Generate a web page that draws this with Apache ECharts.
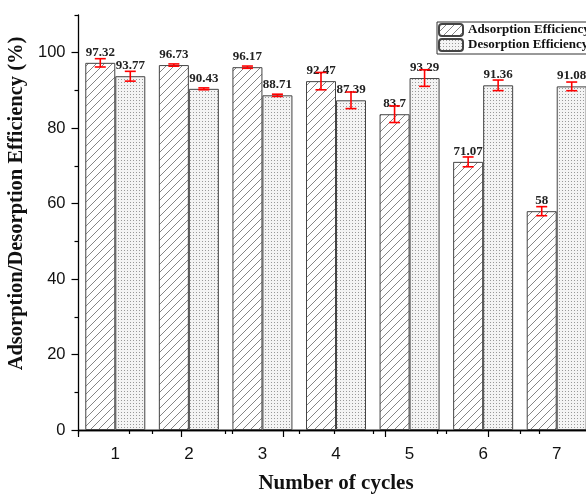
<!DOCTYPE html>
<html>
<head>
<meta charset="utf-8">
<script src="https://cdn.jsdelivr.net/npm/echarts@6/dist/echarts.min.js"></script>
<style>
html,body{margin:0;padding:0;background:#fff;}
#chart{width:586px;height:494px;}
</style>
</head>
<body>
<div id="chart"></div>
<script>
const categories = ['1', '2', '3', '4', '5', '6', '7'];
const adsorption = [97.32, 96.73, 96.17, 92.47, 83.7, 71.07, 58];
const desorption = [93.77, 90.43, 88.71, 87.39, 93.29, 91.36, 91.08];
const adsorptionErr = [1.1, 0.3, 0.3, 2.3, 2.2, 1.3, 1.2];
const desorptionErr = [1.3, 0.25, 0.3, 2.2, 2.2, 1.4, 1.15];
const yMajorTicks = [0, 20, 40, 60, 80, 100];
const yMinorTicks = [10, 30, 50, 70, 90, 110];

function hatchPattern() {
  const c = document.createElement('canvas');
  c.width = 8; c.height = 8;
  const g = c.getContext('2d');
  g.fillStyle = '#fff'; g.fillRect(0, 0, 8, 8);
  g.strokeStyle = '#666'; g.lineWidth = 0.8;
  g.beginPath();
  g.moveTo(-1, 9); g.lineTo(9, -1);
  g.moveTo(-1, 1); g.lineTo(1, -1);
  g.moveTo(7, 9); g.lineTo(9, 7);
  g.stroke();
  return c;
}
function dotPattern() {
  const c = document.createElement('canvas');
  c.width = 3; c.height = 3;
  const g = c.getContext('2d');
  g.fillStyle = '#f4f4f4'; g.fillRect(0, 0, 3, 3);
  g.fillStyle = '#999'; g.fillRect(1, 1, 1, 1);
  return c;
}
const hatchFill = { image: hatchPattern(), repeat: 'repeat' };
const dotFill = { image: dotPattern(), repeat: 'repeat' };

const BAR_W = 30;
const serif = "'Liberation Serif', 'Times New Roman', serif";
const sans = "'Liberation Sans', Arial, sans-serif";

function errData(vals, errs) {
  return vals.map((v, i) => [i, v, errs[i]]);
}
function errRender(shift) {
  return function (params, api) {
    const i = api.value(0), v = api.value(1), e = api.value(2);
    const t = api.coord([i, v + e]);
    const b = api.coord([i, v - e]);
    const x = t[0] + shift;
    const cap = 5.5;
    const style = { stroke: '#ff0000', lineWidth: 1.6 };
    return {
      type: 'group',
      children: [
        { type: 'line', shape: { x1: x, y1: t[1], x2: x, y2: b[1] }, style },
        { type: 'line', shape: { x1: x - cap, y1: t[1], x2: x + cap, y2: t[1] }, style },
        { type: 'line', shape: { x1: x - cap, y1: b[1], x2: x + cap, y2: b[1] }, style }
      ]
    };
  };
}

const chart = echarts.init(document.getElementById('chart'), null, { renderer: 'canvas' });
const labelStyle = {
  show: true, position: 'top', distance: 4,
  fontFamily: serif, fontWeight: 'bold', fontSize: 13, color: '#222'
};
chart.setOption({
  animation: false,
  backgroundColor: '#fff',
  grid: { left: 78.5, right: -7.5, top: 15, bottom: 64, containLabel: false, outerBoundsMode: 'none' },
  legend: {
    orient: 'vertical', left: 437, top: 22,
    itemWidth: 24, itemHeight: 12, itemGap: 1,
    padding: [1, 20, 2, 1],
    borderColor: '#333', borderWidth: 1, borderRadius: 0,
    backgroundColor: '#fff',
    textStyle: { fontFamily: serif, fontWeight: 'bold', fontSize: 13, color: '#111' },
    data: ['Adsorption Efficiency', 'Desorption Efficiency']
  },
  xAxis: [
    {
      type: 'category', data: categories, position: 'bottom',
      name: 'Number of cycles', nameLocation: 'middle', nameGap: 43,
      nameTextStyle: { fontFamily: serif, fontWeight: 'bold', fontSize: 21, color: '#111' },
      axisLine: { lineStyle: { color: '#000', width: 1.3 } },
      axisTick: { alignWithLabel: true, inside: false, length: 8, lineStyle: { color: '#000', width: 1.3 } },
      axisLabel: { margin: 16, fontFamily: sans, fontSize: 17, color: '#111' },
      splitLine: { show: false }
    },
    {
      type: 'category', data: categories, position: 'bottom', offset: 0,
      axisLine: { show: true, onZero: false, lineStyle: { color: 'rgba(0,0,0,0)', width: 1 } },
      axisTick: { show: true, alignWithLabel: false, length: 4, lineStyle: { color: '#000', width: 1.2 } },
      axisLabel: { show: false },
      splitLine: { show: false }
    },
    {
      type: 'value', position: 'top', min: 0, max: 5.03, interval: 1,
      axisLine: { show: true, lineStyle: { color: '#000', width: 1.3 } },
      axisTick: { show: true, inside: true, length: 7, lineStyle: { color: '#000', width: 1.2 } },
      minorTick: { show: true, splitNumber: 2, length: 4, lineStyle: { color: '#000', width: 1.2 } },
      axisLabel: { show: false },
      splitLine: { show: false }
    }
  ],
  yAxis: [
    {
      type: 'value', min: 0, max: 110, interval: 20, position: 'left',
      name: 'Adsorption/Desorption Efficiency (%)', nameLocation: 'middle', nameGap: 34,
      nameTextStyle: { fontFamily: serif, fontWeight: 'bold', fontSize: 20.5, color: '#111', padding: [0, 0, 0, 38] },
      axisLine: { show: true, lineStyle: { color: '#000', width: 1.3 } },
      axisTick: { show: true, length: 7, customValues: yMajorTicks, lineStyle: { color: '#000', width: 1.2 } },
      axisLabel: { margin: 13, fontFamily: sans, fontSize: 16.5, color: '#111', customValues: yMajorTicks },
      splitLine: { show: false }
    },
    {
      type: 'value', min: 0, max: 110, position: 'left',
      axisLine: { show: false },
      axisTick: { show: true, length: 4, customValues: yMinorTicks, lineStyle: { color: '#000', width: 1.2 } },
      axisLabel: { show: false, customValues: yMinorTicks },
      splitLine: { show: false }
    }
  ],
  series: [
    {
      name: 'Adsorption Efficiency', type: 'bar', data: adsorption,
      xAxisIndex: 0, yAxisIndex: 0,
      barWidth: BAR_W, barGap: '0%',
      itemStyle: { color: hatchFill, borderColor: '#444', borderWidth: 1 },
      label: labelStyle
    },
    {
      name: 'Desorption Efficiency', type: 'bar', data: desorption,
      xAxisIndex: 0, yAxisIndex: 0,
      barWidth: BAR_W, barGap: '0%',
      itemStyle: { color: dotFill, borderColor: '#444', borderWidth: 1 },
      label: labelStyle
    },
    {
      type: 'custom', xAxisIndex: 0, yAxisIndex: 0, z: 5,
      renderItem: errRender(-BAR_W / 2), data: errData(adsorption, adsorptionErr), silent: true
    },
    {
      type: 'custom', xAxisIndex: 0, yAxisIndex: 0, z: 5,
      renderItem: errRender(BAR_W / 2), data: errData(desorption, desorptionErr), silent: true
    }
  ]
});
</script>
</body>
</html>
